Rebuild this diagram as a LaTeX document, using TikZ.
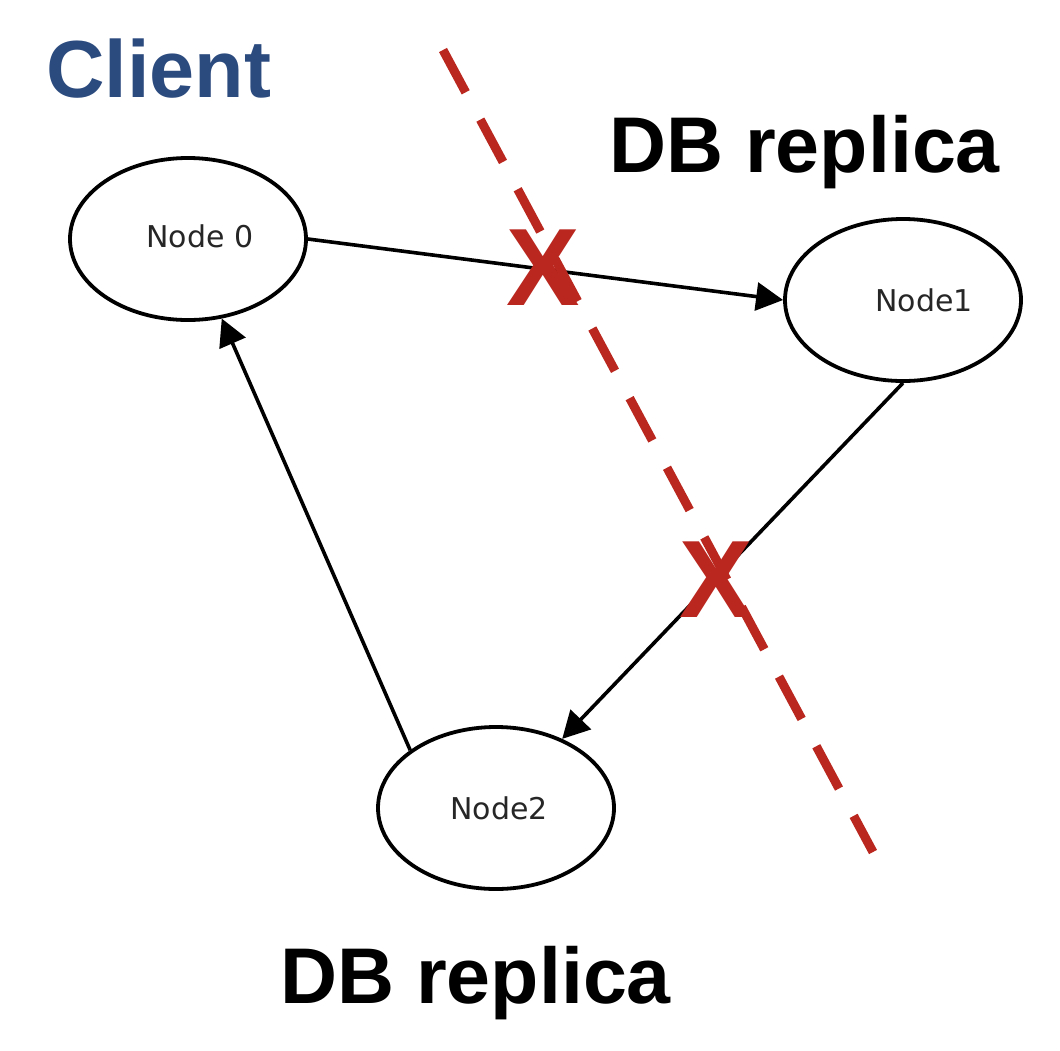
\documentclass[tikz,border=0pt]{standalone}
\usepackage{fontspec}
\newfontfamily\headfont{Liberation Sans}
\newfontfamily\graphfont{DejaVu Sans}
\usepackage{tikz}
\usetikzlibrary{arrows.meta, shapes.geometric}

\definecolor{clientblue}{RGB}{43,74,126}
\definecolor{cutred}{RGB}{185,39,31}

\begin{document}
\begin{tikzpicture}[x=1pt, y=-1pt,
	vertex/.style={ellipse, draw, line width=3.8pt, minimum width=236pt, minimum height=162pt, inner sep=0pt, font=\graphfont\fontsize{30}{34}\selectfont, text=black!85},
	edge/.style={-{Triangle[length=27pt, width=28pt]}, line width=3.6pt},
	heading/.style={anchor=base west, inner sep=0pt, font=\headfont\bfseries\fontsize{79}{90}\selectfont},
	cross/.style={inner sep=0pt, text=cutred, font=\headfont\bfseries\fontsize{110}{120}\selectfont}]

	\useasboundingbox (0,0) rectangle (1060,1050);

	    \node [heading, text=clientblue, font=\headfont\bfseries\fontsize{81}{90}\selectfont] (client) at (46,97) {Client};
	    \node [heading] (replicatop) at (609,172) {DB replica};
	    \node [heading] (replicabot) at (280,1003) {DB replica};

	    \node [vertex] (n0) at (188,239) {\hspace*{24pt}\raisebox{5pt}{Node 0}};
	    \node [vertex] (n1) at (903,300) {\hspace*{42pt}Node1};
	    \node [vertex] (n2) at (496,808) {\hspace*{6pt}Node2};

		\draw [edge] (n0.east) -- (n1.west);
		\draw [edge] (n1.south) -- (n2);
		\draw [edge] (n2.146) -- (n0.-67);

		%%%%%%%%%%%%%%%%%%%%%%%%%%%%%%%%%%%%%%%%%%%%%%%%%%%%%%%%%%%%%%%%%%%%%

		\draw [cutred, line width=9pt, dash pattern=on 48pt off 31pt] (443,50) -- (873,852);

	    \node [cross] (x1) at (543,268) {X};
	    \node [cross] (x2) at (716,580) {X};

\end{tikzpicture}
\end{document}
